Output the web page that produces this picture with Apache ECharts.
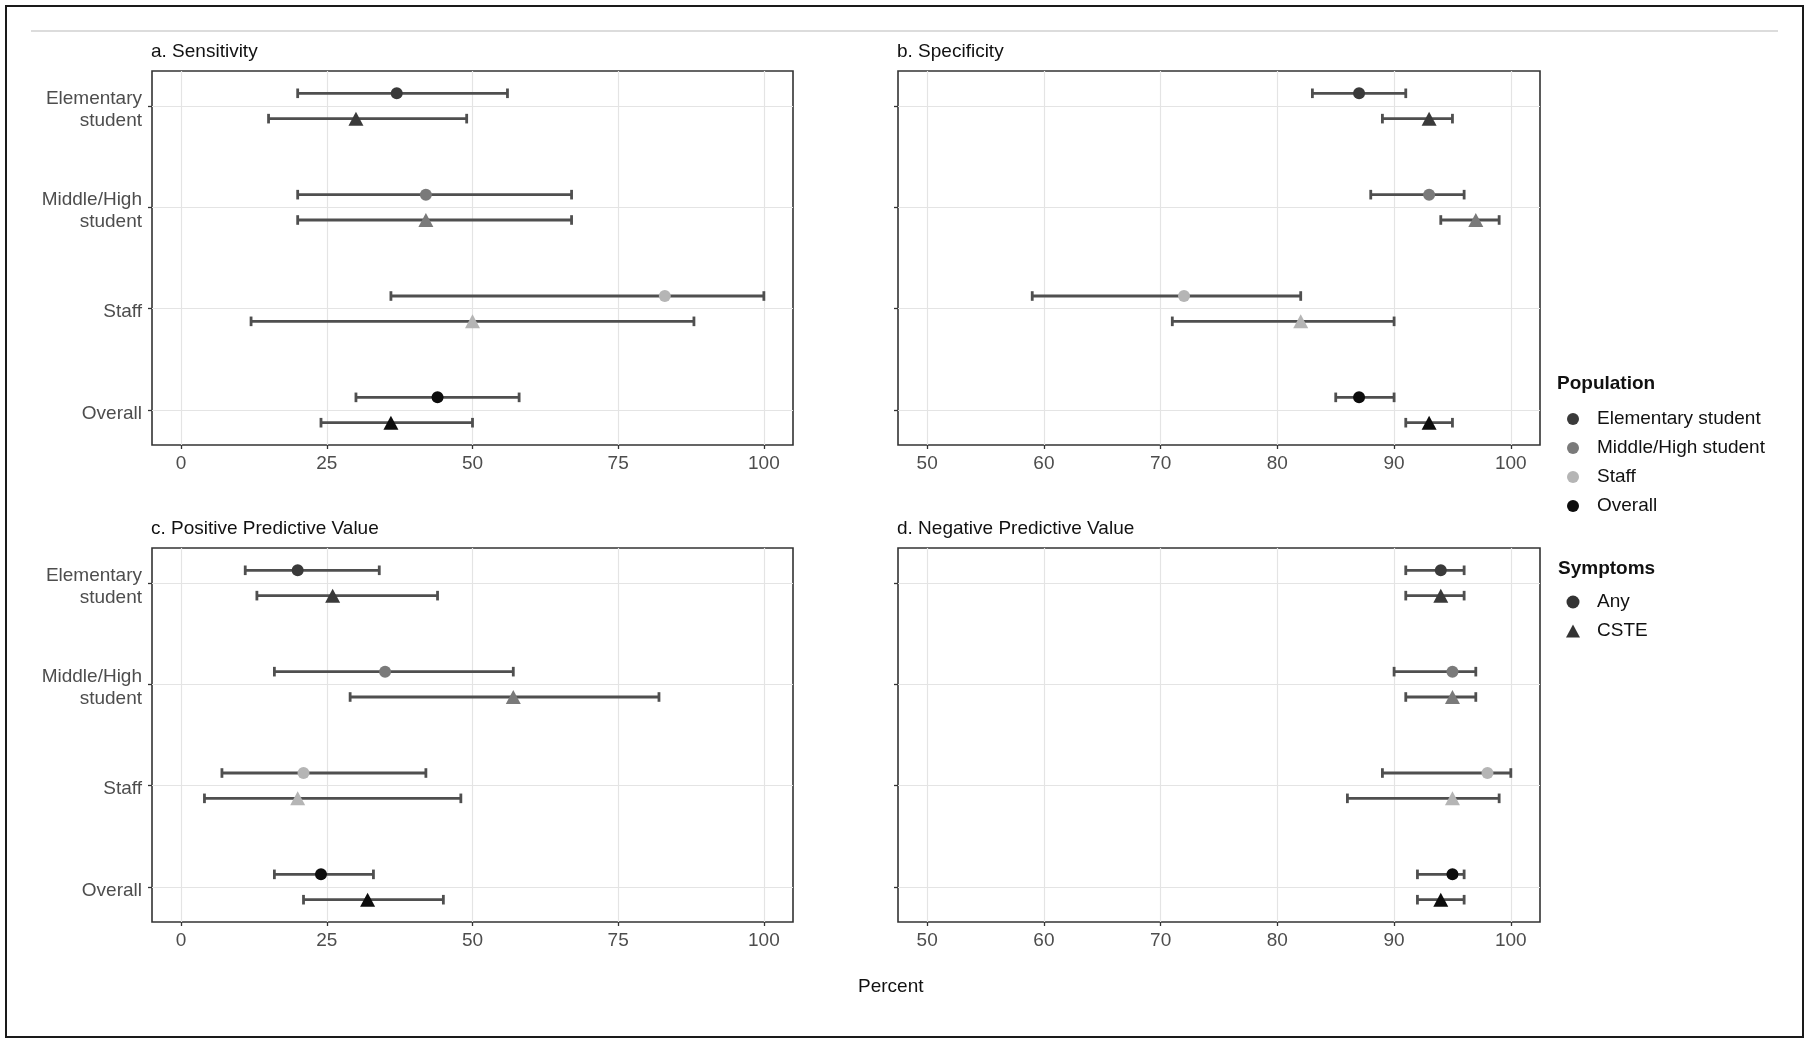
<!DOCTYPE html>
<html>
<head>
<meta charset="utf-8">
<script src="https://cdn.jsdelivr.net/npm/echarts@6/dist/echarts.min.js"></script>
<style>
html,body{margin:0;padding:0;background:#fff;}
#chart{width:1810px;height:1045px;}
</style>
</head>
<body>
<div id="chart"></div>
<script>
// ---------- data ----------
const categories = ['Elementary student', 'Middle/High student', 'Staff', 'Overall'];
const categoryLabels = ['Elementary\nstudent', 'Middle/High\nstudent', 'Staff', 'Overall'];
const symptoms = ['Any', 'CSTE'];
const panelTitles = ['a. Sensitivity', 'b. Specificity', 'c. Positive Predictive Value', 'd. Negative Predictive Value'];
const xTicksLeft = [0, 25, 50, 75, 100];
const xTicksRight = [50, 60, 70, 80, 90, 100];

// Sensitivity
const sensAnyEst = [37, 42, 83, 44];
const sensAnyLo  = [20, 20, 36, 30];
const sensAnyHi  = [56, 67, 100, 58];
const sensCsteEst = [30, 42, 50, 36];
const sensCsteLo  = [15, 20, 12, 24];
const sensCsteHi  = [49, 67, 88, 50];
// Specificity
const specAnyEst = [87, 93, 72, 87];
const specAnyLo  = [83, 88, 59, 85];
const specAnyHi  = [91, 96, 82, 90];
const specCsteEst = [93, 97, 82, 93];
const specCsteLo  = [89, 94, 71, 91];
const specCsteHi  = [95, 99, 90, 95];
// Positive predictive value
const ppvAnyEst = [20, 35, 21, 24];
const ppvAnyLo  = [11, 16, 7, 16];
const ppvAnyHi  = [34, 57, 42, 33];
const ppvCsteEst = [26, 57, 20, 32];
const ppvCsteLo  = [13, 29, 4, 21];
const ppvCsteHi  = [44, 82, 48, 45];
// Negative predictive value
const npvAnyEst = [94, 95, 98, 95];
const npvAnyLo  = [91, 90, 89, 92];
const npvAnyHi  = [96, 97, 100, 96];
const npvCsteEst = [94, 95, 95, 94];
const npvCsteLo  = [91, 91, 86, 92];
const npvCsteHi  = [96, 97, 99, 96];

// ---------- styling ----------
const popColors = ['#3a3a3a', '#7a7a7a', '#b5b5b5', '#0d0d0d'];
const FONT = '"Liberation Sans", Arial, sans-serif';
const DODGE = 0.125;

const panels = [
  {est: [sensAnyEst, sensCsteEst], lo: [sensAnyLo, sensCsteLo], hi: [sensAnyHi, sensCsteHi]},
  {est: [specAnyEst, specCsteEst], lo: [specAnyLo, specCsteLo], hi: [specAnyHi, specCsteHi]},
  {est: [ppvAnyEst, ppvCsteEst], lo: [ppvAnyLo, ppvCsteLo], hi: [ppvAnyHi, ppvCsteHi]},
  {est: [npvAnyEst, npvCsteEst], lo: [npvAnyLo, npvCsteLo], hi: [npvAnyHi, npvCsteHi]}
];

const gridBoxes = [
  {left: 152, top: 71, width: 641, height: 374},
  {left: 898, top: 71, width: 642, height: 374},
  {left: 152, top: 548, width: 641, height: 374},
  {left: 898, top: 548, width: 642, height: 374}
];

const grids = [], xAxes = [], yAxes = [], series = [], titles = [];

gridBoxes.forEach((g, i) => {
  const isLeft = (i % 2 === 0);
  grids.push({left: g.left, top: g.top, width: g.width, height: g.height,
    show: true, borderColor: '#333', borderWidth: 1.6, backgroundColor: 'transparent'});
  const ticks = isLeft ? xTicksLeft : xTicksRight;
  xAxes.push({
    type: 'value', gridIndex: i, position: 'bottom',
    min: isLeft ? -5 : 47.5, max: isLeft ? 105 : 102.5,
    axisLine: {show: false, onZero: false},
    axisTick: {show: true, length: 4, lineStyle: {color: '#333', width: 1.3}, customValues: ticks},
    axisLabel: {show: true, customValues: ticks, margin: 9, color: '#4d4d4d', fontSize: 19, fontFamily: FONT},
    splitLine: {show: true, lineStyle: {color: '#e4e4e4', width: 1.2}}
  });
  yAxes.push({
    type: 'value', gridIndex: i, inverse: true, position: 'left',
    min: -0.345, max: 3.345,
    axisLine: {show: false, onZero: false},
    axisTick: {show: true, length: 4, lineStyle: {color: '#333', width: 1.3}, customValues: [0, 1, 2, 3]},
    axisLabel: {show: isLeft, customValues: [0, 1, 2, 3], margin: 10, color: '#4d4d4d', fontSize: 19,
      fontFamily: FONT, lineHeight: 22, align: 'right',
      formatter: v => '{s| }\n' + categoryLabels[Math.round(v)].split('\n').map(l => '{t|' + l + '}').join('\n'),
      rich: {
        s: {fontSize: 2, lineHeight: 7},
        t: {fontSize: 19, lineHeight: 22, color: '#4d4d4d', fontFamily: FONT}
      }},
    splitLine: {show: true, lineStyle: {color: '#e4e4e4', width: 1.2}}
  });
  titles.push({text: panelTitles[i], left: g.left - 1, top: g.top - 30, padding: 0,
    textStyle: {fontSize: 19, fontWeight: 'normal', color: '#111', fontFamily: FONT, lineHeight: 22}});

  const p = panels[i];
  // error bars
  const barData = [];
  categories.forEach((c, ci) => {
    symptoms.forEach((s, si) => {
      barData.push([p.lo[si][ci], p.hi[si][ci], ci + (si === 0 ? -DODGE : DODGE)]);
    });
  });
  series.push({
    type: 'custom', xAxisIndex: i, yAxisIndex: i, z: 2, silent: true,
    encode: {x: [0, 1], y: 2},
    data: barData,
    renderItem: (params, api) => {
      const y = api.value(2);
      const a = api.coord([api.value(0), y]);
      const b = api.coord([api.value(1), y]);
      const h = 4.8;
      const st = {stroke: '#4f4f4f', lineWidth: 2.8};
      return {type: 'group', children: [
        {type: 'line', shape: {x1: a[0], y1: a[1], x2: b[0], y2: b[1]}, style: st},
        {type: 'line', shape: {x1: a[0], y1: a[1] - h, x2: a[0], y2: a[1] + h}, style: st},
        {type: 'line', shape: {x1: b[0], y1: b[1] - h, x2: b[0], y2: b[1] + h}, style: st}
      ]};
    }
  });
  // points, one series per population
  categories.forEach((c, ci) => {
    series.push({
      type: 'scatter', name: c, xAxisIndex: i, yAxisIndex: i, z: 3,
      itemStyle: {color: popColors[ci], opacity: 1},
      symbol: 'circle',
      data: symptoms.map((s, si) => ({
        value: [p.est[si][ci], ci + (si === 0 ? -DODGE : DODGE)],
        symbol: si === 0 ? 'circle' : 'triangle',
        symbolSize: si === 0 ? 12 : [15, 14]
      }))
    });
  });
});

// legend-only series for Symptoms
series.push({type: 'scatter', name: 'Any', xAxisIndex: 0, yAxisIndex: 0, symbol: 'circle',
  itemStyle: {color: '#000'}, data: []});
series.push({type: 'scatter', name: 'CSTE', xAxisIndex: 0, yAxisIndex: 0, symbol: 'triangle',
  itemStyle: {color: '#000'}, data: []});

titles.push({text: 'Percent', left: 858, top: 976, padding: 0,
  textStyle: {fontSize: 19, fontWeight: 'normal', color: '#111', fontFamily: FONT, lineHeight: 22}});
titles.push({text: 'Population', left: 1557, top: 373, padding: 0,
  textStyle: {fontSize: 19, fontWeight: 'bold', color: '#111', fontFamily: FONT, lineHeight: 22}});
titles.push({text: 'Symptoms', left: 1558, top: 558, padding: 0,
  textStyle: {fontSize: 19, fontWeight: 'bold', color: '#111', fontFamily: FONT, lineHeight: 22}});

const legendText = {fontSize: 19, color: '#111', fontFamily: FONT, lineHeight: 22, padding: [0, 0, 0, 13]};

const option = {
  backgroundColor: '#fff',
  animation: false,
  title: titles,
  grid: grids,
  xAxis: xAxes,
  yAxis: yAxes,
  legend: [
    {data: categories.map(c => ({name: c, icon: 'circle'})), orient: 'vertical', left: 1567, top: 408,
      itemWidth: 12, itemHeight: 12, itemGap: 7, padding: 0, textStyle: legendText, selectedMode: false},
    {data: [{name: 'Any', icon: 'circle'}, {name: 'CSTE', icon: 'triangle'}], orient: 'vertical',
      left: 1566, top: 591, itemWidth: 14, itemHeight: 13, itemGap: 7, padding: 0,
      textStyle: Object.assign({}, legendText, {padding: [0, 0, 0, 12]}), selectedMode: false}
  ],
  graphic: [
    {type: 'rect', shape: {x: 6, y: 6, width: 1797, height: 1031}, style: {fill: 'none', stroke: '#1a1a1a', lineWidth: 2}, silent: true, z: -1},
    {type: 'line', shape: {x1: 31, y1: 31, x2: 1778, y2: 31}, style: {stroke: '#dcdcdc', lineWidth: 2}, silent: true, z: -1}
  ],
  series: series
};

const chart = echarts.init(document.getElementById('chart'), null, {renderer: 'canvas'});
chart.setOption(option);
</script>
</body>
</html>
